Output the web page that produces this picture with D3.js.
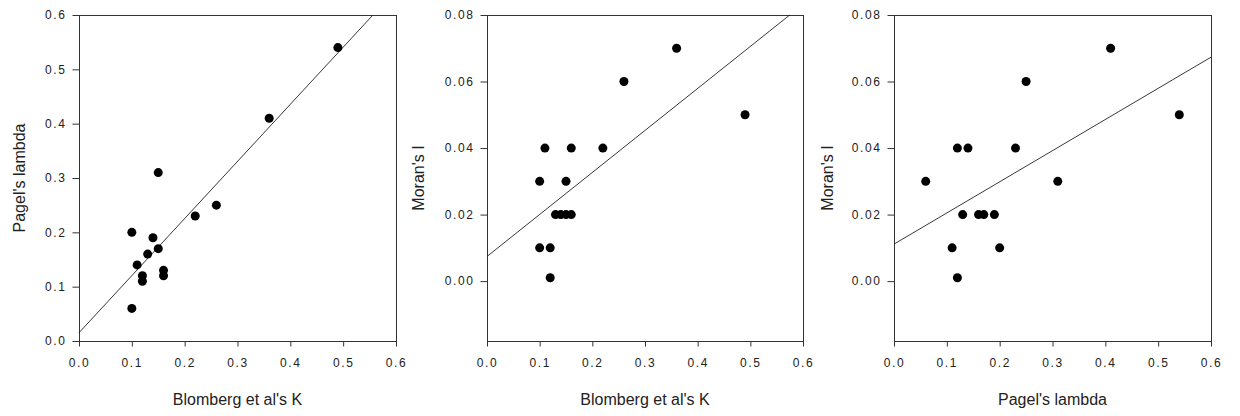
<!DOCTYPE html>
<html>
<head>
<meta charset="utf-8">
<script src="https://cdn.jsdelivr.net/npm/d3@7"></script>
<style>
  body { margin: 0; background: #fff; }
  svg { display: block; }
  .tick text { font-family: "Liberation Sans", Arial, sans-serif; font-size: 12px; letter-spacing: 1.6px; fill: #222; }
  .tick line, .domain { stroke: #333; }
  .title { font-family: "Liberation Sans", Arial, sans-serif; font-size: 16px; fill: #222; }
</style>
</head>
<body>
<svg width="1240" height="416"></svg>
<script>
// one entry per species, same order in every array
const blombergK = [0.49, 0.36, 0.26, 0.22, 0.15, 0.10, 0.10, 0.11, 0.12, 0.12, 0.16, 0.16, 0.13, 0.14, 0.15];
const pagelLambda = [0.54, 0.41, 0.25, 0.23, 0.31, 0.20, 0.06, 0.14, 0.11, 0.12, 0.12, 0.13, 0.16, 0.19, 0.17];
const moransI = [0.05, 0.07, 0.06, 0.04, 0.03, 0.01, 0.03, 0.04, 0.01, 0.001, 0.04, 0.02, 0.02, 0.02, 0.02];

const xTicks = [0, 0.1, 0.2, 0.3, 0.4, 0.5, 0.6];
const lambdaTicks = [0, 0.1, 0.2, 0.3, 0.4, 0.5, 0.6];
const moranTicks = [0, 0.02, 0.04, 0.06, 0.08];

const panels = [
  { left: 79, right: 396, x: blombergK, y: pagelLambda, yDomain: [0, 0.6], yTicks: lambdaTicks, yFmt: ".1f",
    xTitle: "Blomberg et al's K", yTitle: "Pagel's lambda", yTitleX: 25 },
  { left: 487, right: 803, x: blombergK, y: moransI, yDomain: [-0.018, 0.08], yTicks: moranTicks, yFmt: ".2f",
    xTitle: "Blomberg et al's K", yTitle: "Moran's I", yTitleX: 424 },
  { left: 894, right: 1211, x: pagelLambda, y: moransI, yDomain: [-0.018, 0.08], yTicks: moranTicks, yFmt: ".2f",
    xTitle: "Pagel's lambda", yTitle: "Moran's I", yTitleX: 833 }
];

const plotTop = 15, plotBottom = 341;
const svg = d3.select("svg");

function fit(xs, ys) {
  const mx = d3.mean(xs), my = d3.mean(ys);
  let sxy = 0, sxx = 0;
  xs.forEach((v, i) => { sxy += (v - mx) * (ys[i] - my); sxx += (v - mx) * (v - mx); });
  const b = sxy / sxx;
  return { a: my - b * mx, b: b };
}

panels.forEach(p => {
  const x = d3.scaleLinear().domain([0, 0.6]).range([p.left, p.right]);
  const y = d3.scaleLinear().domain(p.yDomain).range([plotBottom, plotTop]);
  const g = svg.append("g");

  g.append("rect")
    .attr("x", p.left + 0.5).attr("y", plotTop + 0.5)
    .attr("width", p.right - p.left).attr("height", plotBottom - plotTop)
    .attr("fill", "none").attr("stroke", "#333");

  g.append("g")
    .attr("transform", "translate(0," + (plotBottom + 0.5) + ")")
    .call(d3.axisBottom(x).tickValues(xTicks).tickFormat(d3.format(".1f")).tickSizeInner(5).tickSizeOuter(0).tickPadding(12))
    .call(a => a.select(".domain").remove());

  g.append("g")
    .attr("transform", "translate(" + (p.left + 0.5) + ",0)")
    .call(d3.axisLeft(y).tickValues(p.yTicks).tickFormat(d3.format(p.yFmt)).tickSizeInner(7).tickSizeOuter(0).tickPadding(6))
    .call(a => a.select(".domain").attr("d", "M0," + plotTop + "V" + (plotBottom + 4)));

  // least squares line, clipped to the frame
  const r = fit(p.x, p.y);
  let x1 = 0.6, y1 = r.a + r.b * 0.6;
  if (y1 > p.yDomain[1]) { y1 = p.yDomain[1]; x1 = (y1 - r.a) / r.b; }
  g.append("line")
    .attr("x1", x(0)).attr("y1", y(r.a))
    .attr("x2", x(x1)).attr("y2", y(y1))
    .attr("stroke", "#222").attr("stroke-width", 0.9);

  g.selectAll("circle")
    .data(p.x.map((v, i) => [v, p.y[i]]))
    .enter()
    .append("circle")
    .attr("cx", d => x(d[0]))
    .attr("cy", d => y(d[1]))
    .attr("r", 4.5)
    .attr("fill", "#000");

  g.append("text")
    .attr("class", "title")
    .attr("x", (p.left + p.right) / 2).attr("y", 405)
    .attr("text-anchor", "middle")
    .text(p.xTitle);

  g.append("text")
    .attr("class", "title")
    .attr("transform", "translate(" + p.yTitleX + "," + ((plotTop + plotBottom) / 2) + ") rotate(-90)")
    .attr("text-anchor", "middle")
    .text(p.yTitle);
});
</script>
</body>
</html>
